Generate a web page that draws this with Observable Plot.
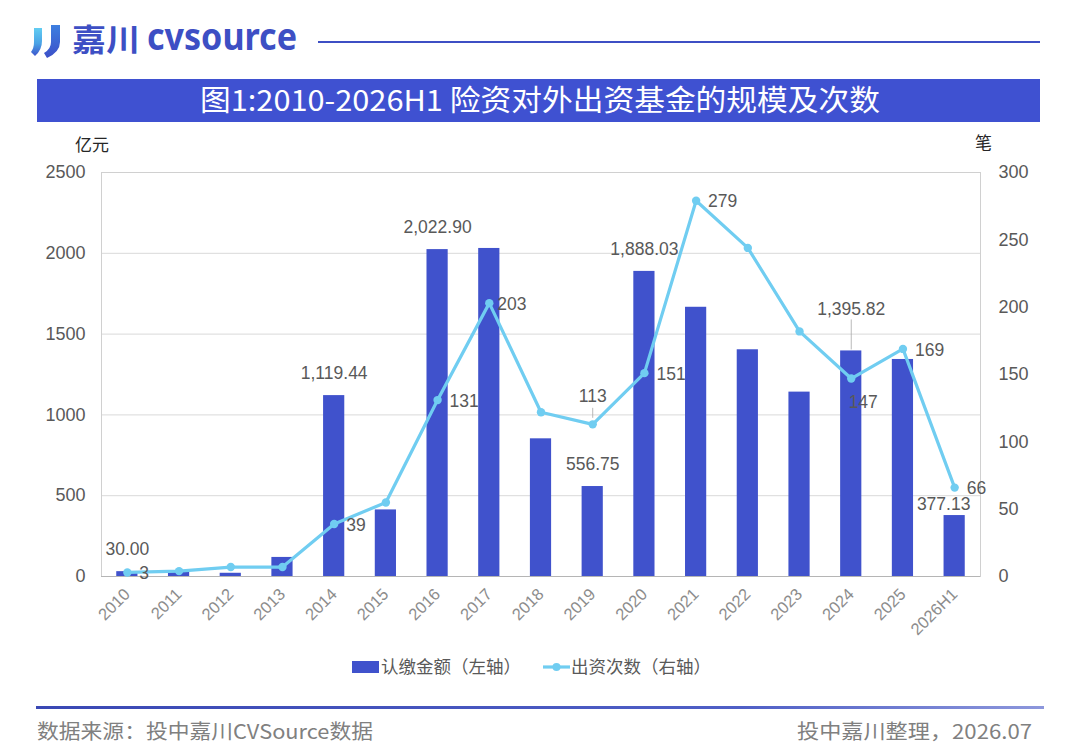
<!DOCTYPE html>
<html>
<head>
<meta charset="utf-8">
<script src="https://cdn.jsdelivr.net/npm/d3@7"></script>
<script src="https://cdn.jsdelivr.net/npm/@observablehq/plot@0.6"></script>
<style>
  html, body { margin: 0; padding: 0; background: #ffffff; }
  #root { position: relative; width: 1080px; height: 752px; overflow: hidden; background: #fff;
          font-family: "Noto Sans CJK SC", "Noto Sans", sans-serif; }
  #deco { position: absolute; left: 0; top: 0; }
  #chart { position: absolute; left: 0; top: 130px; }
  #legend { position: absolute; left: 0; top: 652px; width: 1080px; height: 30px; }
</style>
</head>
<body>
<div id="root">
  <svg id="deco" width="1080" height="752" xmlns="http://www.w3.org/2000/svg">
    <defs>
      <linearGradient id="gL" x1="0" y1="0" x2="0" y2="1">
        <stop offset="0" stop-color="#62cdf2"/>
        <stop offset="0.55" stop-color="#4aa3e6"/>
        <stop offset="1" stop-color="#3d55cc"/>
      </linearGradient>
      <linearGradient id="gR" x1="0" y1="0" x2="0" y2="1">
        <stop offset="0" stop-color="#3d7fe0"/>
        <stop offset="1" stop-color="#3c4fc8"/>
      </linearGradient>
      <linearGradient id="gF" x1="0" y1="0" x2="1" y2="0">
        <stop offset="0" stop-color="#3a48b4"/>
        <stop offset="0.7" stop-color="#4f5fc6"/>
        <stop offset="1" stop-color="#8d97dc"/>
      </linearGradient>
    </defs>
    <!-- logo icon -->
    <path d="M34,28 h8 v13 q0,9 -7,15 l-4,-4 q3,-4 3,-10 z" fill="url(#gL)"/>
    <path d="M51,25 h9 v17 q0,10 -13,16 l-3,-5 q7,-4 7,-11 z" fill="url(#gR)"/>
    <text x="72" y="51" font-size="31" font-weight="700" fill="#3d4fc4" textLength="68" lengthAdjust="spacingAndGlyphs" font-family="Noto Sans CJK SC">嘉川</text>
    <text x="147" y="50" font-size="37" font-weight="700" fill="#3d4fc4" textLength="150" lengthAdjust="spacingAndGlyphs" font-family="Noto Sans, sans-serif">cvsource</text>
    <line x1="318" y1="42" x2="1040" y2="42" stroke="#3d4fc4" stroke-width="2"/>
    <!-- title bar -->
    <rect x="37" y="79" width="1003" height="43" fill="#3f51d1"/>
    <text x="540" y="111" text-anchor="middle" font-size="29" fill="#ffffff" textLength="680" lengthAdjust="spacingAndGlyphs" font-family="Noto Sans CJK SC">图1:2010-2026H1 险资对外出资基金的规模及次数</text>
    <!-- axis unit labels -->
    <text x="75" y="151" font-size="17" fill="#262626" font-family="Noto Sans CJK SC">亿元</text>
    <text x="975" y="149" font-size="17" fill="#262626" font-family="Noto Sans CJK SC">笔</text>
    <!-- footer -->
    <rect x="36" y="706" width="1008" height="3" fill="url(#gF)"/>
    <text x="37" y="739" font-size="20" fill="#808080" textLength="336" lengthAdjust="spacingAndGlyphs" font-family="Noto Sans CJK SC">数据来源：投中嘉川CVSource数据</text>
    <text x="1032" y="739" text-anchor="end" font-size="20" fill="#808080" textLength="235" lengthAdjust="spacingAndGlyphs" font-family="Noto Sans CJK SC">投中嘉川整理，2026.07</text>
  </svg>
  <div id="chart"></div>
  <svg id="legend" width="1080" height="30" xmlns="http://www.w3.org/2000/svg"></svg>
</div>
<script>
// ---- data ----
const years = ["2010","2011","2012","2013","2014","2015","2016","2017","2018","2019","2020","2021","2022","2023","2024","2025","2026H1"];
const amounts = [30.00, 25, 20, 118, 1119.44, 412, 2022.90, 2030, 852, 556.75, 1888.03, 1666, 1403, 1141, 1395.82, 1343, 377.13];
const counts = [3, 4, 7, 7, 39, 55, 131, 203, 122, 113, 151, 279, 244, 182, 147, 169, 66];
const leftTicks = [0, 500, 1000, 1500, 2000, 2500];
const rightTicks = [0, 50, 100, 150, 200, 250, 300];
const amountLabelYears = ["2010","2014","2016","2019","2020","2024","2026H1"];
const countLabelYears = ["2010","2014","2016","2017","2019","2020","2021","2024","2025","2026H1"];
const seriesNames = ["认缴金额（左轴）", "出资次数（右轴）"];

// ---- styles ----
const BAR = "#4052cc";
const LINE = "#70cdf1";
const LABEL = "#595959";
const k = 2500 / 300; // right axis -> left axis units

const data = years.map((y, i) => ({year: y, amt: amounts[i], cnt: counts[i], cntL: counts[i] * k}));
const fmtAmt = d3.format(",.2f");

const amtData = data.filter(d => amountLabelYears.includes(d.year));
const cntData = data.filter(d => countLabelYears.includes(d.year));
const amtNormal = amtData.filter(d => d.year !== "2024" && d.year !== "2026H1");
const cntNormal = cntData.filter(d => !["2017","2019","2024"].includes(d.year));

const chart = Plot.plot({
  width: 1080,
  height: 520,
  marginLeft: 101,
  marginRight: 100,
  marginTop: 42,
  marginBottom: 74,
  style: {fontFamily: "'Liberation Sans', Arial, sans-serif", fontSize: "17px", color: LABEL, background: "transparent", overflow: "visible"},
  x: {type: "band", domain: years, paddingInner: 0.59, paddingOuter: 0.295, round: false, axis: null, label: null},
  y: {domain: [0, 2500], label: null},
  marks: [
    Plot.gridY(leftTicks, {stroke: "#d9d9d9", strokeOpacity: 1}),
    Plot.frame({stroke: "#d0d0d0"}),
    Plot.barY(data, {x: "year", y: "amt", fill: BAR}),
    Plot.ruleY([0], {stroke: "#b5b5b5"}),
    Plot.axisY(leftTicks, {anchor: "left", tickSize: 0, tickPadding: 16, fontSize: 18, fill: LABEL, label: null, tickFormat: d => String(d)}),
    Plot.axisY(rightTicks.map(v => v * k), {anchor: "right", tickSize: 0, tickPadding: 18, fontSize: 18, fill: LABEL, label: null, tickFormat: d => String(Math.round(d / k))}),
    // x tick labels (rotated)
    Plot.text(years, {x: d => d, frameAnchor: "bottom", text: d => d, rotate: -45, textAnchor: "end", lineAnchor: "middle", dx: 0, dy: 15, fontSize: 16.5, fill: "#8c8c8c"}),
    // leader lines
    Plot.ruleX(data.filter(d => d.year === "2024"), {x: "year", y1: "amt", y2: "amt", insetTop: -1, insetBottom: 31, stroke: "#a6a6a6", strokeWidth: 0.8}),
    Plot.ruleX(data.filter(d => d.year === "2019"), {x: "year", y1: "cntL", y2: "cntL", insetTop: -6, insetBottom: 16, stroke: "#a6a6a6", strokeWidth: 0.8}),
    // line series
    Plot.line(data, {x: "year", y: "cntL", stroke: LINE, strokeWidth: 3.2, curve: "linear"}),
    Plot.dot(data, {x: "year", y: "cntL", r: 4.2, fill: LINE, stroke: "none"}),
    // amount labels
    Plot.text(amtNormal, {x: "year", y: "amt", text: d => fmtAmt(d.amt), dy: -22, fill: LABEL, fontSize: 17.5}),
    Plot.text(amtData.filter(d => d.year === "2024"), {x: "year", y: "amt", text: d => fmtAmt(d.amt), dy: -42, fill: LABEL, fontSize: 17.5}),
    Plot.text(amtData.filter(d => d.year === "2026H1"), {x: "year", y: "amt", text: d => fmtAmt(d.amt), dx: -11, dy: -11, fill: LABEL, fontSize: 17.5}),
    // count labels
    Plot.text(cntNormal, {x: "year", y: "cntL", text: d => String(d.cnt), textAnchor: "start", dx: 12, dy: 1, fill: LABEL, fontSize: 17.5}),
    Plot.text(cntData.filter(d => d.year === "2017"), {x: "year", y: "cntL", text: d => String(d.cnt), textAnchor: "start", dx: 8, dy: 1, fill: LABEL, fontSize: 17.5}),
    Plot.text(cntData.filter(d => d.year === "2019"), {x: "year", y: "cntL", text: d => String(d.cnt), dy: -28, fill: LABEL, fontSize: 17.5}),
    Plot.text(cntData.filter(d => d.year === "2024"), {x: "year", y: "cntL", text: d => String(d.cnt), dx: 12, dy: 24, fill: LABEL, fontSize: 17.5})
  ]
});
document.getElementById("chart").appendChild(chart);

// ---- legend ----
const lg = d3.select("#legend");
const ly = 15;
lg.append("rect").attr("x", 352).attr("y", ly - 6).attr("width", 27).attr("height", 12).attr("fill", BAR);
lg.append("text").attr("x", 381).attr("y", ly + 6).attr("font-size", 17.5).attr("fill", LABEL)
  .attr("font-family", "Noto Sans CJK SC").text(seriesNames[0]);
lg.append("line").attr("x1", 543).attr("x2", 570).attr("y1", ly).attr("y2", ly).attr("stroke", LINE).attr("stroke-width", 3.2);
lg.append("circle").attr("cx", 556.5).attr("cy", ly).attr("r", 4).attr("fill", LINE);
lg.append("text").attr("x", 571).attr("y", ly + 6).attr("font-size", 17.5).attr("fill", LABEL)
  .attr("font-family", "Noto Sans CJK SC").text(seriesNames[1]);
</script>
</body>
</html>
